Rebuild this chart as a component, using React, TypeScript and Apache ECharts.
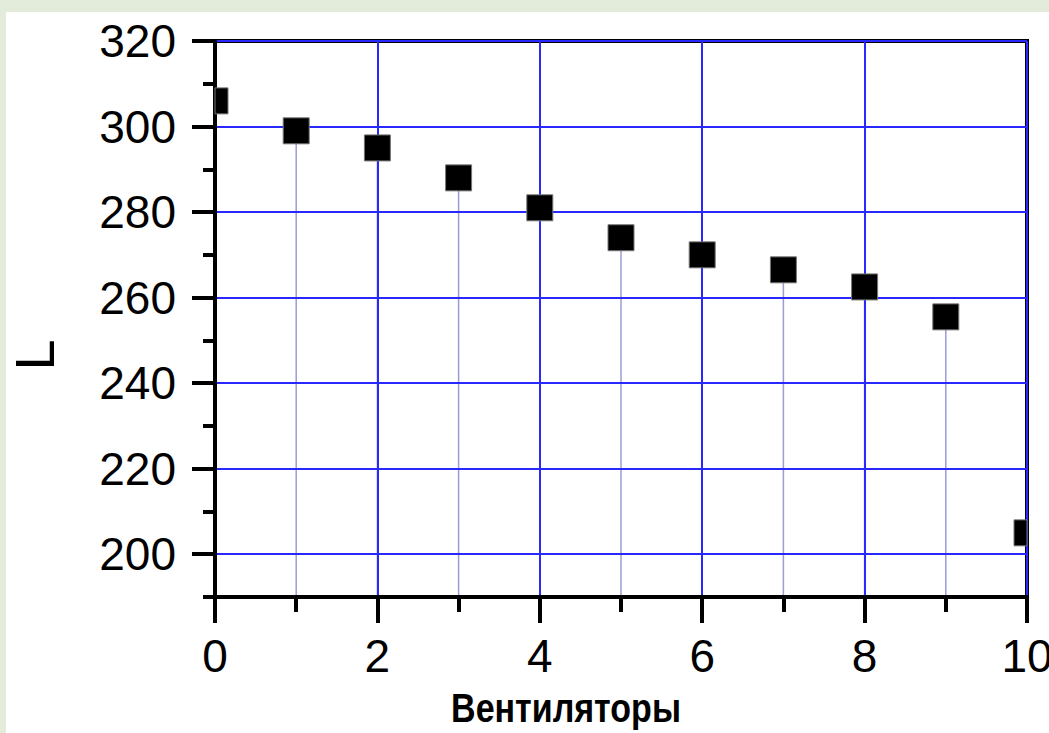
import React, { useEffect, useRef } from "react";
import * as echarts from "echarts";

const fanCounts = [0, 1, 2, 3, 4, 5, 6, 7, 8, 9, 10];
const lValues = [306, 299, 295, 288, 281, 274, 270, 266.5, 262.5, 255.5, 205];
const yMajorTicks = [200, 220, 240, 260, 280, 300, 320];
const xAxisTitle = "Вентиляторы";
const yAxisTitle = "L";

const FONT = "'Liberation Sans', Arial, sans-serif";

export default function App() {
  const ref = useRef<HTMLDivElement>(null);

  useEffect(() => {
    if (!ref.current) return;
    const chart = echarts.init(ref.current, null, { renderer: "svg" });
    const data = fanCounts.map((x, i) => [x, lValues[i]]);
    const axisW = 4;

    const option: any = {
      animation: false,
      backgroundColor: "transparent",
      grid: {
        left: 215,
        top: 41,
        right: 22,
        bottom: 136,
        containLabel: false,
        outerBoundsMode: "none",
        show: true,
        borderColor: "#000",
        borderWidth: axisW,
        z: 2,
      },
      xAxis: {
        type: "value",
        min: 0,
        max: 10,
        interval: 2,
        z: 2,
        axisLine: { show: true, lineStyle: { color: "#000", width: axisW } },
        axisTick: { show: true, length: 26, lineStyle: { color: "#000", width: axisW } },
        minorTick: { show: true, splitNumber: 2, length: 15, lineStyle: { color: "#000", width: axisW } },
        axisLabel: { margin: 36, fontSize: 46, color: "#000", fontFamily: FONT },
        splitLine: { show: true, lineStyle: { color: "#2828ff", width: 2 } },
        minorSplitLine: { show: false },
      },
      yAxis: [
        {
          type: "value",
          min: 190,
          max: 320,
          splitNumber: 6,
          position: "left",
          z: 2,
          axisLine: { show: true, lineStyle: { color: "#000", width: axisW } },
          axisTick: {
            show: true,
            length: 23,
            lineStyle: { color: "#000", width: axisW },
            customValues: yMajorTicks,
          },
          axisLabel: {
            customValues: yMajorTicks,
            margin: 39,
            fontSize: 46,
            color: "#000",
            fontFamily: FONT,
          },
          splitLine: { show: true, lineStyle: { color: "#2828ff", width: 2 } },
        },
        {
          type: "value",
          min: 190,
          max: 320,
          interval: 10,
          position: "left",
          offset: 0,
          z: 2,
          axisLine: { show: false },
          axisTick: { show: true, length: 12, lineStyle: { color: "#000", width: axisW } },
          axisLabel: { show: false },
          splitLine: { show: false },
        },
      ],
      graphic: [
        {
          type: "text",
          x: 566,
          y: 708,
          scaleX: 0.83,
          z: 10,
          style: {
            text: xAxisTitle,
            fill: "#000",
            font: `bold 41px ${FONT}`,
            align: "center",
            verticalAlign: "middle",
          },
        },
        {
          type: "text",
          x: 34,
          y: 355,
          rotation: Math.PI / 2,
          z: 10,
          style: {
            text: yAxisTitle,
            fill: "#000",
            font: `56px ${FONT}`,
            align: "center",
            verticalAlign: "middle",
          },
        },
      ],
      series: [
        {
          type: "custom",
          name: "drop",
          coordinateSystem: "cartesian2d",
          xAxisIndex: 0,
          yAxisIndex: 0,
          z: 1,
          data,
          renderItem: (params: any, api: any) => {
            const p = api.coord([api.value(0), api.value(1)]);
            const b = api.coord([api.value(0), 190]);
            return {
              type: "line",
              shape: { x1: p[0], y1: p[1], x2: b[0], y2: b[1] },
              style: { stroke: "#9c9cd8", lineWidth: 1.5 },
            };
          },
        },
        {
          type: "custom",
          name: "L",
          coordinateSystem: "cartesian2d",
          xAxisIndex: 0,
          yAxisIndex: 0,
          z: 5,
          data,
          renderItem: (params: any, api: any) => {
            const p = api.coord([api.value(0), api.value(1)]);
            const s = 26;
            const cs = params.coordSys;
            const shape = echarts.graphic.clipRectByRect(
              { x: p[0] - s / 2, y: p[1] - s / 2, width: s, height: s },
              { x: cs.x, y: cs.y, width: cs.width, height: cs.height }
            );
            if (!shape) return null;
            return {
              type: "rect",
              shape,
              style: { fill: "#000", stroke: "#777", lineWidth: 1 },
            };
          },
        },
      ],
    };

    chart.setOption(option);
    return () => chart.dispose();
  }, []);

  return (
    <div style={{ position: "fixed", left: 0, top: 0, width: 1049, height: 733, background: "#e3ebda" }}>
      <div style={{ position: "absolute", left: 6, top: 12, right: 0, bottom: 0, background: "#fff" }} />
      <div ref={ref} style={{ position: "absolute", left: 0, top: 0, width: 1049, height: 733 }} />
    </div>
  );
}
